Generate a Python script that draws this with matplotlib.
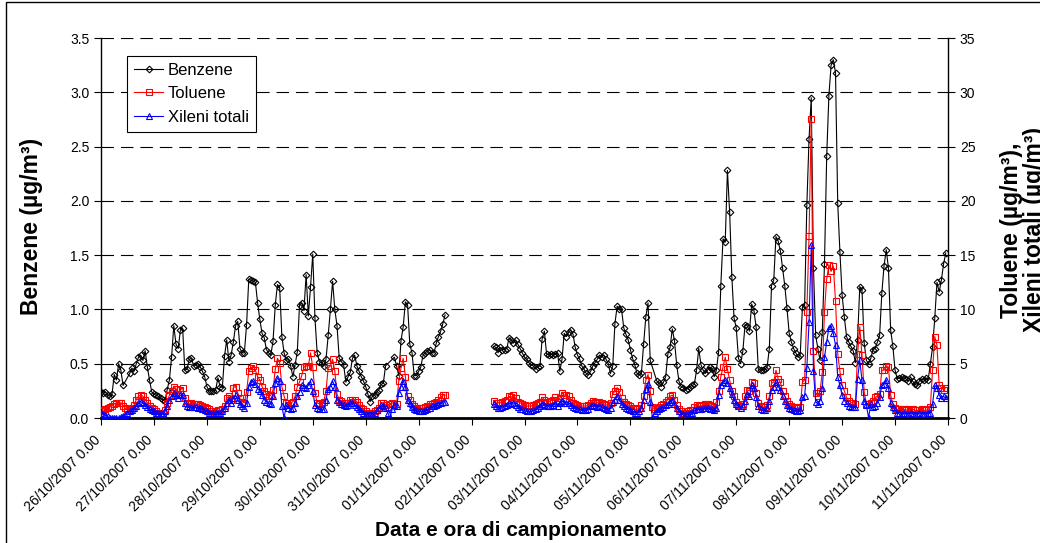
import numpy as np
import pandas as pd
import matplotlib
matplotlib.use('Agg')
import matplotlib.pyplot as plt
import matplotlib.transforms as mtransforms
from matplotlib.patches import Rectangle

nan = np.nan

# medie orarie, prima serie dal 26/10/2007 0.00
start_1 = '2007-10-26 00:00'
benzene_1 = [
    0.24, 0.23, 0.24, 0.21, 0.20, 0.22, 0.40, 0.35, 0.50, 0.44, 0.30, nan, nan, 0.41, 0.46, 0.43, 0.50, 0.56, 0.58, 0.53, 0.62, 0.47, 0.35, 0.24,
    0.22, 0.21, 0.20, 0.18, 0.17, 0.16, 0.26, 0.35, 0.56, 0.85, 0.68, 0.64, 0.81, 0.83, 0.44, 0.45, 0.54, 0.55, 0.48, 0.49, 0.50, 0.47, 0.43, 0.38,
    0.29, 0.25, 0.25, 0.25, 0.26, 0.37, 0.29, 0.28, 0.57, 0.72, 0.52, 0.58, 0.70, 0.85, 0.89, 0.64, 0.60, 0.60, 0.86, 1.28, 1.27, 1.26, 1.25, 1.06,
    0.91, 0.78, 0.74, 0.63, 0.60, 0.58, 0.71, 1.04, 1.23, 1.20, 0.75, 0.60, 0.53, 0.54, 0.48, 0.38, 0.49, 0.61, 1.04, 1.06, 0.99, 1.32, 0.94, 1.21,
    1.51, 0.92, 0.60, 0.52, 0.51, 0.48, 0.54, 0.76, 1.00, 1.26, 1.00, 0.85, 0.55, 0.52, 0.49, 0.33, 0.38, 0.42, 0.55, 0.58, 0.48, 0.43, 0.38, 0.34,
    0.29, 0.22, 0.15, 0.20, 0.21, 0.24, 0.26, 0.31, 0.32, 0.48, nan, nan, nan, 0.56, 0.48, 0.39, 0.71, 0.84, 1.07, 1.04, 0.68, 0.60, 0.39, 0.39,
    0.43, 0.47, 0.58, 0.60, 0.62, 0.63, 0.60, 0.60, 0.69, 0.75, 0.80, 0.87, 0.95,
]
toluene_1 = [
    0.6, 0.7, 0.8, 0.9, 1.0, 1.1, 1.3, 1.4, 1.4, 1.4, 1.1, 0.9, 0.8, 0.8, 0.9, 1.2, 1.7, 2.0, 2.1, 2.0, 1.7, 1.4, 1.1, 0.9,
    0.8, 0.6, 0.5, 0.5, 0.5, 0.7, 1.4, 2.1, 2.5, 2.9, 2.7, 2.2, 2.6, 2.8, 1.8, 1.4, 1.3, 1.4, 1.3, 1.3, 1.3, 1.2, 1.1, 1.0,
    0.9, 0.8, 0.6, 0.6, 0.6, 0.7, 0.7, 0.8, 1.1, 1.8, 2.0, 1.7, 2.8, 2.9, 2.3, 1.8, 1.5, 1.4, 2.4, 4.3, 4.6, 4.8, 4.4, 3.8,
    3.5, 2.9, 2.5, 2.2, 2.0, 2.1, 2.6, 4.5, 5.5, 5.1, 2.9, 2.0, 1.4, 1.2, 1.4, 1.5, 2.0, 2.9, 3.3, 3.9, 4.7, 4.8, 4.8, 6.0,
    4.7, 2.3, 1.4, 1.3, 1.4, 1.5, 2.5, 4.6, 4.8, 5.4, 4.3, 2.2, 1.7, 1.6, 1.4, 1.4, 1.4, 1.7, 1.7, 1.7, 1.5, 1.2, 0.9, 0.8,
    0.6, 0.5, 0.5, 0.5, 0.6, 0.7, 0.9, 1.4, 1.4, 1.2, 1.0, 1.3, 1.4, 1.3, 1.3, 3.4, 4.6, 5.5, 3.8, 2.0, 1.7, 1.3, 1.1, 0.9,
    0.9, 0.9, 0.9, 1.0, 1.1, 1.3, 1.3, 1.4, 1.5, 1.7, 1.9, 2.1, 2.1,
]
xileni_1 = [
    0.5, 0.4, 0.3, 0.15, 0.0, 0.0, 0.0, 0.0, 0.0, 0.1, 0.15, 0.3, 0.5, 0.6, 0.7, 0.9, 1.1, 1.4, 1.5, 1.4, 1.2, 1.0, 0.8, 0.7,
    0.6, 0.5, 0.45, 0.45, 0.45, 0.6, 1.1, 1.7, 2.0, 2.3, 2.1, 1.8, 2.1, 2.1, 1.4, 1.1, 1.0, 1.0, 1.0, 1.0, 0.9, 0.9, 0.8, 0.7,
    0.6, 0.5, 0.45, 0.45, 0.45, 0.5, 0.5, 0.6, 0.9, 1.4, 1.7, 1.4, 1.8, 2.1, 1.7, 1.3, 1.1, 0.9, 1.4, 2.9, 3.3, 3.4, 3.1, 2.7,
    2.5, 2.1, 1.7, 1.5, 1.4, 1.3, 2.0, 3.2, 3.7, 3.4, 1.1, 0.0, 1.2, 0.9, 0.8, 0.9, 1.4, 2.0, 2.4, 3.0, 2.9, 2.8, 3.0, 3.4,
    2.5, 1.2, 0.9, 0.8, 0.8, 0.8, 1.7, 2.7, 2.9, 3.4, 2.9, 1.7, 1.5, 1.3, 1.2, 1.1, 1.2, 1.4, 1.4, 1.2, 1.0, 0.8, 0.6, 0.5,
    0.4, 0.4, 0.4, 0.4, 0.5, 0.7, 0.9, 1.2, 1.1, 0.9, 0.5, 0.0, 0.8, 1.2, 1.1, 2.3, 2.9, 3.4, 2.9, 1.7, 1.4, 1.0, 0.8, 0.7,
    0.6, 0.6, 0.6, 0.7, 0.8, 0.9, 1.1, 1.1, 1.2, 1.3, 1.4, 1.5, 1.5,
]

# seconda serie dal 02/11/2007 10.00
start_2 = '2007-11-02 10:00'
benzene_2 = [
    0.66, 0.65, 0.60, 0.65, 0.63, 0.63, 0.64, 0.74, 0.72, 0.69, 0.72, 0.68, 0.64, 0.60,
    0.56, 0.54, 0.51, 0.49, 0.48, 0.45, 0.47, 0.48, 0.73, 0.80, 0.59, 0.58, 0.59, 0.58, 0.59, 0.60, 0.43, 0.54, 0.78, 0.75, 0.79, 0.81, 0.77, 0.65,
    0.58, 0.54, 0.48, 0.45, 0.41, 0.40, 0.43, 0.48, 0.51, 0.54, 0.58, 0.56, 0.58, 0.54, 0.50, 0.41, 0.48, 0.87, 1.03, 1.00, 1.00, 0.83, 0.77, 0.72,
    0.63, 0.55, 0.49, 0.41, 0.40, 0.41, 0.68, 0.93, 1.06, 0.53, nan, nan, 0.34, 0.32, 0.29, 0.33, 0.38, 0.59, 0.65, 0.82, 0.71, 0.49, 0.34, 0.29,
    0.28, 0.26, 0.27, 0.29, 0.30, 0.31, 0.44, 0.64, 0.49, 0.44, 0.41, 0.44, 0.47, 0.45, 0.38, 0.44, 0.61, 1.22, 1.65, 1.62, 2.28, 1.90, 1.30, 0.92,
    0.83, 0.55, 0.50, 0.62, 0.86, 0.85, 0.80, 1.05, 0.99, 0.84, 0.45, 0.44, 0.44, 0.45, 0.47, 0.64, 1.22, 1.27, 1.67, 1.63, 1.54, 1.38, 1.22, 1.01,
    0.78, 0.70, 0.64, 0.60, 0.56, 0.58, 1.02, 1.04, 1.96, 2.57, 2.95, 1.38, 0.76, 0.64, 0.53, 0.79, 1.42, 2.41, 2.97, 3.25, 3.30, 3.18, 1.98, 1.53,
    1.13, 0.93, 0.75, 0.70, 0.66, 0.62, 0.51, 0.72, 1.21, 1.18, 0.69, 0.53, 0.50, 0.55, 0.63, 0.64, 0.70, 0.76, 1.15, 1.40, 1.55, 1.38, 0.81, 0.66,
    0.44, 0.36, 0.37, 0.38, 0.37, 0.36, 0.34, 0.38, 0.34, 0.31, 0.30, 0.34, 0.36, 0.35, 0.37, 0.35, 0.50, 0.65, 0.92, 1.25, 1.16, 1.27, 1.42, 1.52,
]
toluene_2 = [
    1.6, 1.4, 1.4, 1.4, 1.5, 1.6, 1.7, 2.0, 1.9, 2.1, 1.8, 1.5, 1.4, 1.3,
    1.2, 1.1, 1.1, 1.1, 1.2, 1.3, 1.4, 1.5, 1.9, 1.7, 1.5, 1.5, 1.6, 1.7, 1.9, 1.5, 1.8, 2.3, 2.1, 2.1, 2.0, 1.7, 1.4, 1.3,
    1.2, 1.1, 1.1, 1.1, 1.1, 1.2, 1.4, 1.6, 1.5, 1.4, 1.5, 1.4, 1.3, 1.2, 1.2, 1.4, 2.2, 2.5, 2.8, 2.4, 1.8, 1.5, 1.3, 1.2,
    1.1, 0.9, 0.8, 0.8, 0.9, 1.2, 2.0, 3.5, 4.0, 2.5, 1.0, 0.8, 0.9, 1.0, 1.2, 1.3, 1.5, 1.7, 2.0, 2.1, 1.7, 1.2, 0.8, 0.6,
    0.5, 0.5, 0.6, 0.7, 0.7, 1.0, 1.2, 1.1, 1.1, 1.2, 1.3, 1.3, 1.2, 1.1, 1.0, 1.5, 2.5, 3.8, 4.7, 5.6, 4.5, 3.5, 2.5, 2.0,
    1.5, 1.2, 1.1, 1.3, 2.0, 2.6, 2.5, 3.3, 3.2, 2.3, 1.4, 1.1, 1.0, 1.0, 1.2, 2.0, 3.2, 3.3, 4.4, 3.6, 3.3, 2.5, 2.0, 1.6,
    1.3, 1.1, 1.0, 0.9, 0.9, 1.0, 3.3, 3.5, 9.8, 16.8, 27.5, 6.2, 2.3, 2.0, 2.5, 4.2, 9.8, 12.8, 14.1, 13.5, 14.0, 10.8, 5.9, 4.3,
    3.0, 2.5, 1.9, 1.6, 1.4, 1.4, 1.3, 5.9, 8.4, 5.8, 2.4, 1.3, 1.3, 1.4, 1.6, 1.9, 2.0, 2.2, 4.4, 4.4, 4.8, 4.7, 2.1, 1.3,
    0.9, 0.8, 0.8, 0.8, 0.8, 0.7, 0.8, 0.7, 0.8, 0.7, 0.7, 0.7, 0.8, 0.7, 0.7, 0.8, 1.0, 4.4, 7.5, 6.7, 3.0, 2.8, 2.6, 2.8,
]
xileni_2 = [
    1.3, 1.1, 0.9, 0.9, 1.0, 1.1, 1.2, 1.4, 1.3, 1.4, 1.2, 1.0, 0.8, 0.8,
    0.7, 0.6, 0.6, 0.6, 0.7, 0.8, 0.9, 1.1, 1.3, 1.2, 1.1, 1.1, 1.1, 1.2, 1.4, 1.1, 1.4, 1.6, 1.4, 1.4, 1.4, 1.2, 1.0, 0.9,
    0.8, 0.8, 0.7, 0.7, 0.7, 0.8, 1.1, 1.2, 1.1, 1.0, 1.1, 1.0, 0.9, 0.8, 0.7, 0.9, 1.5, 1.7, 2.0, 1.7, 1.3, 1.1, 0.9, 0.8,
    0.7, 0.6, 0.5, 0.5, 0.6, 0.9, 1.7, 2.7, 3.1, 1.5, 0.0, 0.5, 0.6, 0.8, 0.9, 1.0, 1.2, 1.3, 1.5, 1.7, 1.3, 0.9, 0.6, 0.4,
    0.4, 0.4, 0.4, 0.5, 0.5, 0.7, 0.8, 0.8, 0.8, 0.9, 0.9, 0.9, 0.8, 0.8, 0.7, 0.9, 2.1, 3.0, 3.3, 3.5, 3.2, 2.8, 2.2, 1.7,
    1.3, 1.1, 0.9, 1.1, 1.6, 2.2, 2.0, 3.0, 2.8, 1.9, 1.1, 0.8, 0.7, 0.7, 0.9, 1.6, 2.6, 2.9, 3.3, 2.9, 2.6, 2.0, 1.6, 1.2,
    0.9, 0.8, 0.7, 0.6, 0.6, 0.7, 1.9, 2.0, 4.6, 8.8, 15.9, 4.3, 1.5, 1.3, 1.6, 2.8, 5.6, 7.0, 8.3, 8.5, 7.8, 6.7, 3.8, 3.0,
    2.1, 1.6, 1.4, 1.1, 1.0, 1.0, 1.0, 3.6, 5.3, 3.5, 1.6, 1.2, 0.0, 1.3, 1.0, 1.1, 1.4, 1.9, 3.0, 3.1, 3.5, 2.8, 1.4, 1.0,
    0.7, 0.5, 0.5, 0.4, 0.5, 0.4, 0.4, 0.5, 0.4, 0.4, 0.4, 0.5, 0.4, 0.4, 0.4, 0.5, 0.5, 1.3, 3.0, 2.8, 2.1, 1.8, 2.0, 1.8,
]

tick_days = ['26/10/2007', '27/10/2007', '28/10/2007', '29/10/2007', '30/10/2007', '31/10/2007',
             '01/11/2007', '02/11/2007', '03/11/2007', '04/11/2007', '05/11/2007', '06/11/2007',
             '07/11/2007', '08/11/2007', '09/11/2007', '10/11/2007', '11/11/2007']
tick_labels = [d + ' 0.00' for d in tick_days]

FONT = 'Liberation Sans'
plt.rcParams['font.family'] = [FONT, 'DejaVu Sans']
plt.rcParams['lines.scale_dashes'] = False


def draw(ax, start, values, **kw):
    y = np.asarray(values, dtype=float)
    t = pd.date_range(start, periods=len(y), freq='h')
    ok = ~np.isnan(y)
    return ax.plot(t[ok], y[ok], **kw)[0]


fig = plt.figure(figsize=(10.4, 5.43), dpi=100)
ax = fig.add_axes([101 / 1040, 125 / 543, 847 / 1040, 380 / 543])
ax2 = ax.twinx()

stile_b = dict(color='black', marker='D', ms=3.4, mfc='none', mew=0.8, lw=0.8)
stile_t = dict(color='red', marker='s', ms=4.6, mfc='none', mew=0.8, lw=0.8)
stile_x = dict(color='blue', marker='^', ms=5.0, mfc='none', mew=0.8, lw=0.8)

hb = draw(ax, start_1, benzene_1, label='Benzene', **stile_b)
draw(ax, start_2, benzene_2, **stile_b)
ht = draw(ax2, start_1, toluene_1, label='Toluene', **stile_t)
draw(ax2, start_2, toluene_2, **stile_t)
hx = draw(ax2, start_1, xileni_1, label='Xileni totali', **stile_x)
draw(ax2, start_2, xileni_2, **stile_x)

days = pd.to_datetime(tick_days, format='%d/%m/%Y')
ax.set_xlim(days[0], days[-1])
ax.set_xticks(days)
ax.set_xticklabels(tick_labels, rotation=45, ha='right', va='top', rotation_mode='anchor', fontsize=10)
ax.tick_params(axis='x', direction='out', length=5, width=0.8, pad=5)
# etichette spostate un po' a sinistra rispetto al tick
shift = mtransforms.ScaledTranslation(-8 / 100, -1 / 100, fig.dpi_scale_trans)
for lab in ax.get_xticklabels():
    lab.set_transform(lab.get_transform() + shift)

ax.set_ylim(0, 3.5)
ax.set_yticks(np.arange(0, 3.51, 0.5))
ax.set_yticklabels([f'{v:.1f}' for v in np.arange(0, 3.51, 0.5)])
ax.tick_params(axis='y', direction='out', length=5, width=0.8, labelsize=10)
ax2.set_ylim(0, 35)
ax2.set_yticks(np.arange(0, 36, 5))
ax2.tick_params(axis='y', direction='out', length=5, width=0.8, labelsize=10)

ax.yaxis.grid(True, color='black', lw=0.8, linestyle=(0, (9, 5)))
ax.set_axisbelow(True)

for s in ['top', 'right']:
    ax.spines[s].set_visible(False)
for s in ['top', 'left', 'bottom']:
    ax2.spines[s].set_visible(False)
ax.spines['left'].set_linewidth(1.0)
ax.spines['bottom'].set_linewidth(2.0)
ax2.spines['right'].set_linewidth(1.0)

leg = ax2.legend([hb, ht, hx], ['Benzene', 'Toluene', 'Xileni totali'],
                 loc='upper left', bbox_to_anchor=(0.031, 0.953), borderaxespad=0,
                 fontsize=12, fancybox=False, framealpha=1, edgecolor='black',
                 handlelength=1.75, handletextpad=0.3, labelspacing=0.52, borderpad=0.4)
leg.get_frame().set_linewidth(0.8)

fig.text(32 / 1040, 1 - 226 / 543, 'Benzene (µg/m³)', rotation=90, ha='center', va='center',
         fontsize=16.5, fontweight='bold')
# titolo destro su due righe, la seconda finisce sul bordo dell'immagine
fig.text(1023 / 1040, 1 - 230 / 543, 'Toluene (µg/m³),\nXileni totali (µg/m³)', rotation=90,
         ha='center', va='center', multialignment='center', fontsize=16.5, fontweight='bold',
         linespacing=1.05)
fig.text(521 / 1040, 1 - 530 / 543, 'Data e ora di campionamento', ha='center', va='center',
         fontsize=15, fontweight='bold')

# cornice dell'area del grafico (lati destro e inferiore fuori immagine)
fig.add_artist(Rectangle((6 / 1040, -0.1), 1.2, 1.1 - 2 / 543, transform=fig.transFigure,
                         fill=False, edgecolor='black', lw=1.0))

fig.savefig('out.png', dpi=100)
